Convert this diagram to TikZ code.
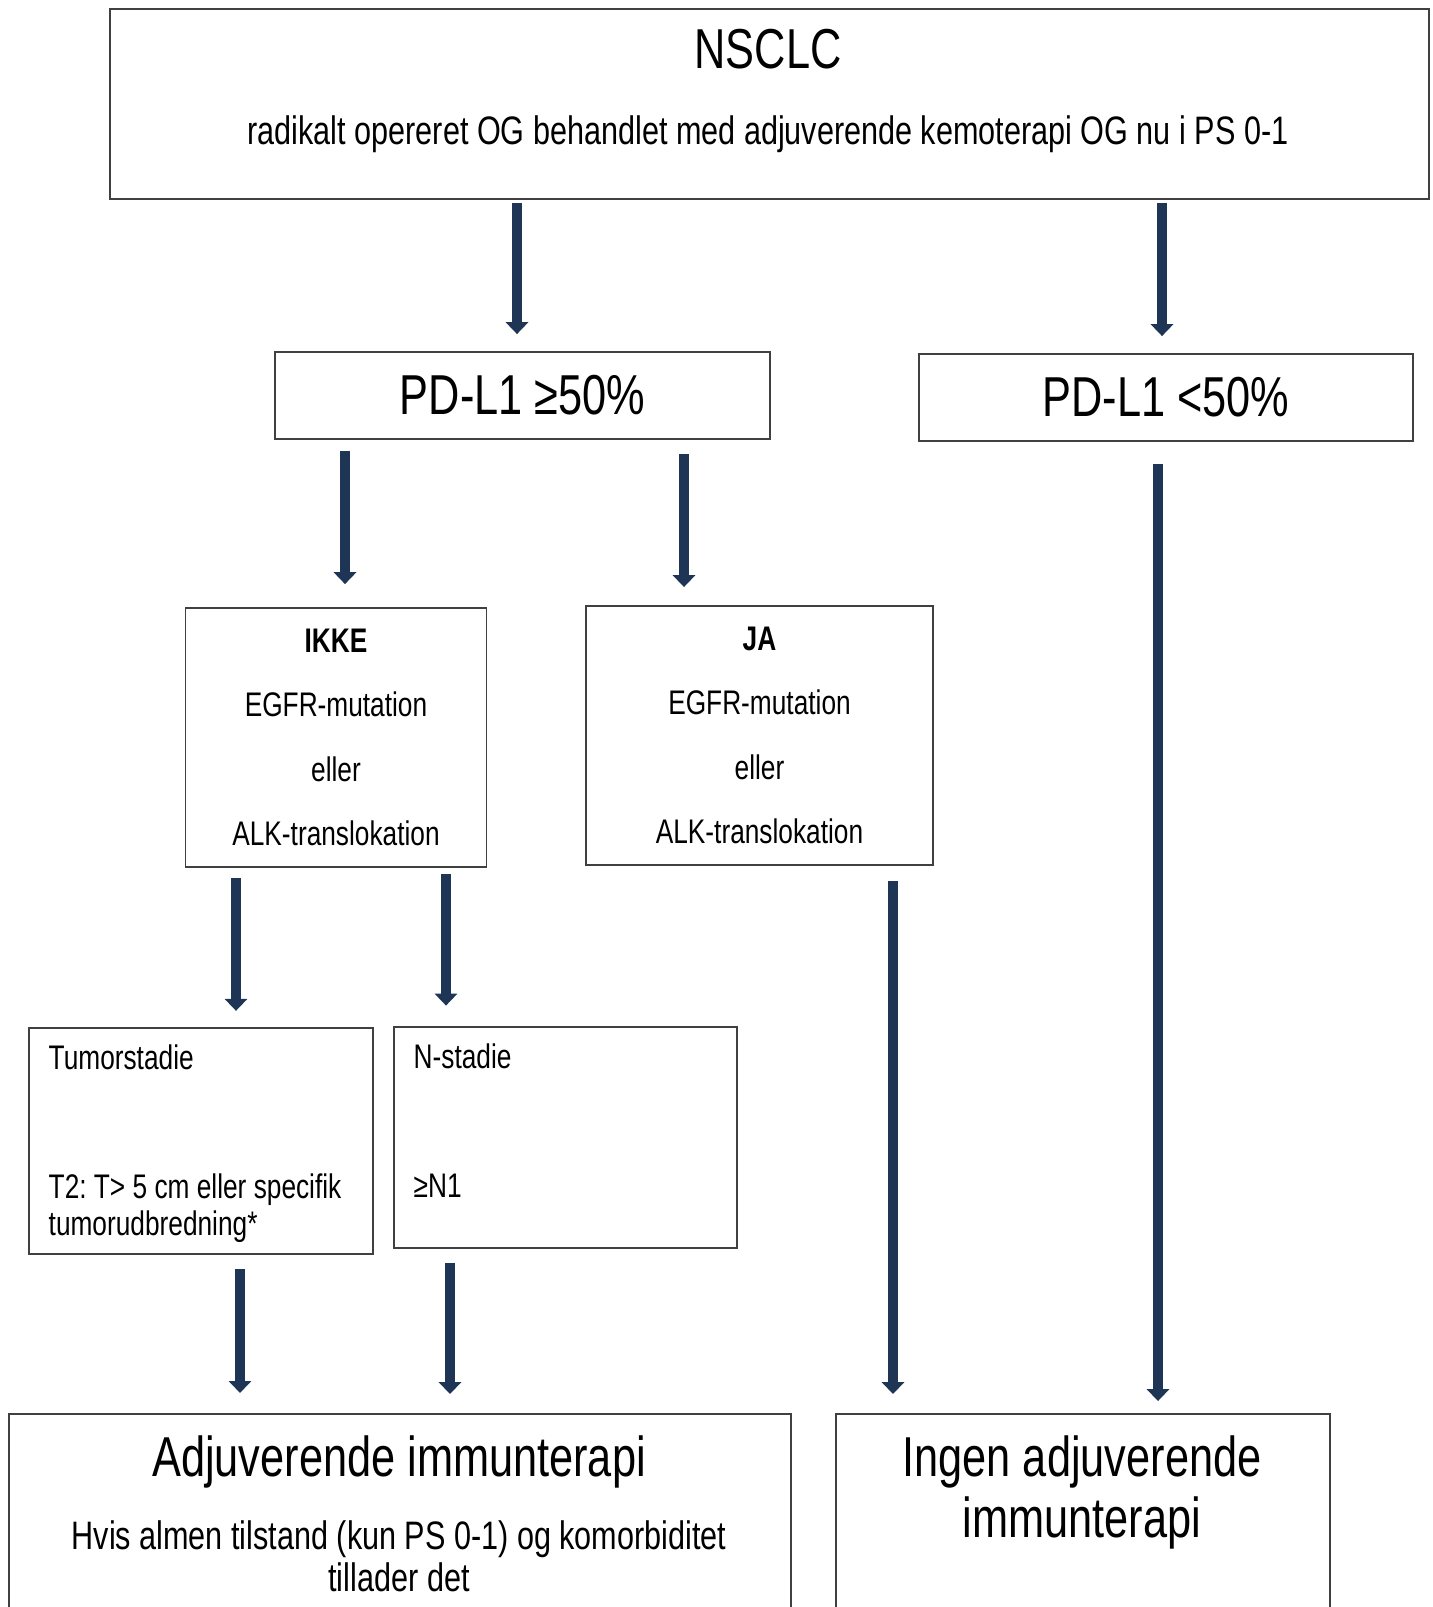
\documentclass[tikz,border=0pt]{standalone}
\usepackage{fontspec}
\setmainfont[FakeStretch=0.77]{Liberation Sans}
\usepackage{xcolor}
\usetikzlibrary{arrows.meta}
\definecolor{mynavy}{RGB}{31,53,85}
\definecolor{myframe}{RGB}{64,64,64}
\frenchspacing

\begin{document}
\begin{tikzpicture}[x=0.01cm,y=-0.01cm,
  box/.style={draw=myframe,line width=0.5pt,inner sep=0pt,anchor=north west},
  txt/.style={inner sep=0pt},
  arr/.style={-{Triangle[width=6.3pt,length=3.4pt]},line width=3pt,color=mynavy},
  small/.style={font=\fontsize{9.7}{18.35}\selectfont},
  big/.style={font=\fontsize{16}{19}\selectfont},
  mid/.style={font=\fontsize{11.3}{12.2}\selectfont}]
\useasboundingbox (0,0) rectangle (1432,1607);
\clip (0,0) rectangle (1432,1607);

% top
\node[box,minimum width=13.18cm,minimum height=1.90cm] (nsclc) at (109,8) {};
\node[txt,big,anchor=base] (nsclctitle) at (768,69) {NSCLC};
\node[txt,mid,anchor=base] (nsclcsub) at (768,145) {radikalt opereret OG behandlet med adjuverende kemoterapi OG nu i PS 0-1};

% PD-L1
\node[box,big,minimum width=4.95cm,minimum height=0.87cm] (pdhi) at (274,351) {PD-L1 ≥50\%};
\node[box,big,minimum width=4.94cm,minimum height=0.87cm] (pdlo) at (918,353) {PD-L1 <50\%};

% mutation
\node[box,small,align=center,minimum width=3.01cm,minimum height=2.59cm] (ikke) at (184.5,607)
  {\textbf{IKKE}\\EGFR-mutation\\eller\\ALK-translokation};
\node[box,small,align=center,minimum width=3.47cm,minimum height=2.59cm] (ja) at (585,605)
  {\textbf{JA}\\EGFR-mutation\\eller\\ALK-translokation};

% stadie
\node[box,minimum width=3.44cm,minimum height=2.26cm] (tum) at (28,1027) {};
\node[txt,small,anchor=base west] (tumtitle) at (48,1069) {Tumorstadie};
\node[txt,small,anchor=base west] (tumT) at (48,1198) {T2: T> 5 cm eller specifik};
\node[txt,small,anchor=base west] (tumT2) at (48,1235) {tumorudbredning*};
\node[box,minimum width=3.43cm,minimum height=2.21cm] (nst) at (393,1026) {};
\node[txt,small,anchor=base west] (nsttitle) at (413,1068) {N-stadie};
\node[txt,small,anchor=base west] (nstN) at (413,1197) {≥N1};

% result
\node[box,minimum width=7.82cm,minimum height=3.0cm] (adj) at (8,1413) {};
\node[txt,big,anchor=base] (adjtitle) at (399,1476) {Adjuverende immunterapi};
\node[txt,mid,anchor=base] (adjsub) at (399,1549) {Hvis almen tilstand (kun PS 0-1) og komorbiditet};
\node[txt,mid,anchor=base] (adjsub2) at (399,1591) {tillader det};
\node[box,minimum width=4.94cm,minimum height=3.0cm] (ingen) at (835,1413) {};
\node[txt,big,anchor=base] (ingentitle) at (1082,1476) {Ingen adjuverende};
\node[txt,big,anchor=base] (ingentitle2) at (1082,1537) {immunterapi};

% arrows
\draw[arr,shorten <=0.85pt,shorten >=4.8pt] (517,0 |- nsclc.south) -- (517,0 |- pdhi.north);
\draw[arr,shorten <=0.85pt,shorten >=4.8pt] (1162,0 |- nsclc.south) -- (1162,0 |- pdlo.north);
\draw[arr,shorten <=3.1pt,shorten >=6.5pt] (345,0 |- pdhi.south) -- (345,0 |- ikke.north);
\draw[arr,shorten <=4pt,shorten >=5.1pt] (684,0 |- pdhi.south) -- (684,0 |- ja.north);
\draw[arr,shorten <=6.3pt,shorten >=3.4pt] (1158,0 |- pdlo.south) -- (1158,0 |- ingen.north);
\draw[arr,shorten <=2.8pt,shorten >=4.6pt] (236,0 |- ikke.south) -- (236,0 |- tum.north);
\draw[arr,shorten <=1.7pt,shorten >=5.8pt] (446,0 |- ikke.south) -- (446,0 |- nst.north);
\draw[arr,shorten <=4.4pt,shorten >=5.4pt] (893,0 |- ja.south) -- (893,0 |- ingen.north);
\draw[arr,shorten <=4pt,shorten >=5.7pt] (240,0 |- tum.south) -- (240,0 |- adj.north);
\draw[arr,shorten <=4pt,shorten >=5.4pt] (450,0 |- nst.south) -- (450,0 |- adj.north);
\end{tikzpicture}
\end{document}
